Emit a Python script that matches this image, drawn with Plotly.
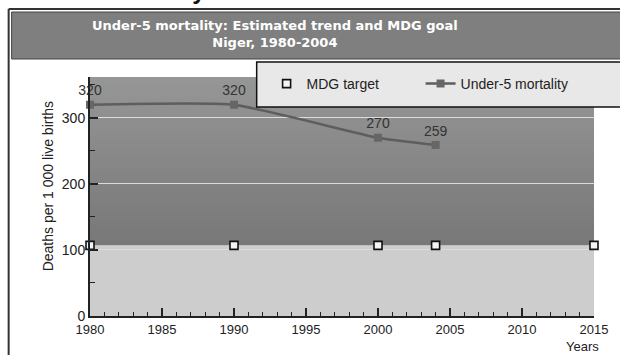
import plotly.graph_objects as go

# Under-5 mortality estimates (deaths per 1 000 live births)
years = [1980, 1990, 2000, 2004]
u5mr = [320, 320, 270, 259]

# MDG target: two-thirds reduction from the 1990 level
target_years = [1980, 1990, 2000, 2004, 2015]
target_value = 107
target = [target_value] * len(target_years)

x_range = [1980, 2015]
y_range = [0, 362]

W, H = 620, 355
L, R, T, B = 90, 22, 77, 39
PW, PH = W - L - R, H - T - B


def px(x):
    return (x - L) / PW


def py(y):
    return (H - B - y) / PH


AXIS_FONT = dict(family="Liberation Sans, Arial, sans-serif", size=13, color="#222222")

fig = go.Figure()

fig.add_trace(go.Scatter(
    x=target_years, y=target, name="MDG target", mode="markers",
    marker=dict(symbol="square", size=8, color="#f4f4f4",
                line=dict(color="#111111", width=1.6)),
    cliponaxis=False,
))

fig.add_trace(go.Scatter(
    x=years, y=u5mr, name="Under-5 mortality", mode="lines+markers+text",
    line=dict(color="#5e5e5e", width=2.5, shape="spline", smoothing=0.45),
    marker=dict(symbol="square", size=8, color="#666666"),
    text=[str(v) for v in u5mr], textposition="top center",
    textfont=dict(family="Liberation Sans, Arial, sans-serif", size=14, color="#333333"),
    cliponaxis=False,
))

shapes = []

# background bands: light below the target, graded dark above it
shapes.append(dict(type="rect", xref="x", yref="y", layer="below",
                   x0=x_range[0], x1=x_range[1], y0=0, y1=target_value,
                   fillcolor="#cdcdcd", line=dict(width=0)))
steps = 40
lo, hi = (0x78, 0x78, 0x78), (0x96, 0x96, 0x96)
for i in range(steps):
    f = i / (steps - 1)
    c = tuple(int(round(a + (b - a) * f)) for a, b in zip(lo, hi))
    y0 = target_value + (y_range[1] - target_value) * i / steps
    # each step reaches the top so the bands overlap without seams
    shapes.append(dict(type="rect", xref="x", yref="y", layer="below",
                       x0=x_range[0], x1=x_range[1], y0=y0, y1=y_range[1],
                       fillcolor="rgb(%d,%d,%d)" % c, line=dict(width=0)))

# outer frame and title bar
shapes.append(dict(type="line", xref="paper", yref="paper",
                   x0=px(8), x1=px(8), y0=py(9), y1=py(360),
                   line=dict(color="#333333", width=2)))
shapes.append(dict(type="line", xref="paper", yref="paper",
                   x0=px(8), x1=px(625), y0=py(9), y1=py(9),
                   line=dict(color="#333333", width=2)))
shapes.append(dict(type="rect", xref="paper", yref="paper",
                   x0=px(11), x1=px(625), y0=py(12), y1=py(59),
                   fillcolor="#7f7f7f", line=dict(color="#444444", width=1)))

# legend box
shapes.append(dict(type="rect", xref="paper", yref="paper", layer="above",
                   x0=px(258), x1=px(625), y0=py(62), y1=py(107),
                   fillcolor="#e8e8e8", line=dict(color="#111111", width=1.5)))

annotations = [
    dict(text="<b>Under-5 mortality</b>", xref="paper", yref="paper",
         x=px(4), y=py(6), xanchor="left", yanchor="bottom", showarrow=False,
         font=dict(family="Liberation Sans, Arial, sans-serif", size=24, color="#111111"),
         ),
    dict(text="<b>Under-5 mortality: Estimated trend and MDG goal</b><br><b>Niger, 1980-2004</b>",
         xref="paper", yref="paper", x=px(276), y=py(34), xanchor="center", yanchor="middle",
         showarrow=False,
         font=dict(family="DejaVu Sans, Verdana, sans-serif", size=13, color="#ffffff")),
    dict(text="Deaths per 1 000 live births", xref="paper", yref="paper",
         x=px(48), y=py(186), xanchor="center", yanchor="middle", textangle=-90,
         showarrow=False,
         font=dict(family="Liberation Sans, Arial, sans-serif", size=14, color="#222222")),
    dict(text="Years", xref="paper", yref="paper",
         x=px(586), y=py(346), xanchor="center", yanchor="middle", showarrow=False,
         font=dict(family="Liberation Sans, Arial, sans-serif", size=13, color="#222222")),
]

fig.update_layout(
    width=W, height=H,
    margin=dict(l=L, r=R, t=T, b=B, pad=0),
    paper_bgcolor="#ffffff", plot_bgcolor="#ffffff",
    shapes=shapes, annotations=annotations,
    showlegend=True,
    legend=dict(orientation="h", x=px(268), y=py(84), xanchor="left", yanchor="middle",
                bgcolor="rgba(0,0,0,0)", borderwidth=0,
                entrywidth=109, entrywidthmode="pixels",
                font=dict(family="Liberation Sans, Arial, sans-serif", size=14, color="#222222")),
    xaxis=dict(range=x_range, tickmode="array",
               tickvals=list(range(1980, 2016, 5)),
               ticks="inside", ticklen=8, tickwidth=1.5, tickcolor="#222222",
               minor=dict(dtick=1, tick0=1980, ticks="inside", ticklen=4,
                          tickwidth=1, tickcolor="#222222", showgrid=False),
               showline=True, linecolor="#222222", linewidth=2,
               showgrid=False, zeroline=False, tickfont=AXIS_FONT),
    yaxis=dict(range=y_range, tickmode="array", tickvals=[0, 100, 200, 300],
               ticks="inside", ticklen=8, tickwidth=1.5, tickcolor="#222222",
               minor=dict(dtick=50, tick0=0, ticks="inside", ticklen=5,
                          tickwidth=1, tickcolor="#222222", showgrid=False),
               showline=True, linecolor="#222222", linewidth=2,
               showgrid=True, gridcolor="#dcdcdc", gridwidth=1.2,
               zeroline=False, tickfont=dict(AXIS_FONT, size=14)),
)

fig.write_html("out.html")
